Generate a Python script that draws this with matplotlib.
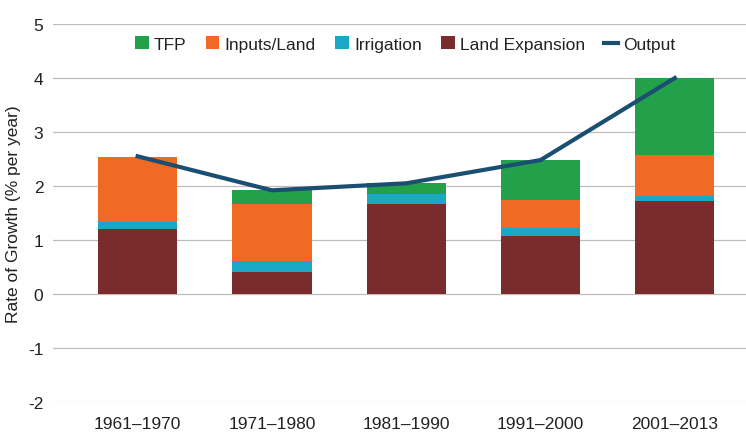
import matplotlib.pyplot as plt
import numpy as np

plt.rcParams['font.family'] = ['Liberation Sans', 'DejaVu Sans']
plt.rcParams['axes.unicode_minus'] = False

COLORS = {
    'tfp': '#23a04a',
    'inputs': '#f06a26',
    'irrigation': '#1ba7c6',
    'land': '#7a2b2c',
    'output': '#1b4f72',
    'grid': '#bdbdbd',
    'text': '#222222',
}

periods = ['1961–1970', '1971–1980', '1981–1990', '1991–2000', '2001–2013']
land_expansion = [1.20, 0.41, 1.66, 1.07, 1.72]
irrigation = [0.13, 0.21, 0.20, 0.16, 0.10]
inputs_land = [1.21, 1.04, 0.00, 0.52, 0.76]
tfp = [0.00, 0.27, 0.19, 0.74, 1.42]
output = [2.55, 1.92, 2.05, 2.48, 4.00]

fig = plt.figure(figsize=(7.46, 4.35), dpi=100)
fig.patch.set_facecolor('white')
ax = fig.add_axes([53 / 746, 32 / 435, 693 / 746, 378 / 435])

x = np.arange(len(periods))
w = 0.59
bottom = np.zeros(len(periods))
series = [
    ('Land Expansion', land_expansion, COLORS['land']),
    ('Irrigation', irrigation, COLORS['irrigation']),
    ('Inputs/Land', inputs_land, COLORS['inputs']),
    ('TFP', tfp, COLORS['tfp']),
]
handles = {}
for name, vals, col in series:
    vals = np.array(vals)
    b = ax.bar(x, vals, w, bottom=bottom, color=col, label=name, zorder=2)
    handles[name] = b
    bottom += vals

line, = ax.plot(x, output, color=COLORS['output'], lw=3, label='Output', zorder=3)

ax.set_xlim(-0.63, 4.53)
ax.set_ylim(-2, 5)
ax.set_yticks(range(-2, 6))
ax.yaxis.grid(True, color=COLORS['grid'], lw=0.9, zorder=0)
ax.get_ygridlines()[0].set_color('#e2e2e2')
ax.set_axisbelow(True)
for s in ax.spines.values():
    s.set_visible(False)
ax.tick_params(axis='y', length=0, labelsize=12.5, colors=COLORS['text'], pad=7)
ax.tick_params(axis='x', length=0, labelsize=12.5, colors=COLORS['text'], pad=10)
ax.set_xticks(x)
ax.set_xticklabels(periods)
ax.set_ylabel('Rate of Growth (% per year)', fontsize=12.5, color=COLORS['text'])
ax.yaxis.set_label_coords(-0.046, 0.5)

order = ['TFP', 'Inputs/Land', 'Irrigation', 'Land Expansion']
leg = ax.legend([handles[n] for n in order] + [line], order + ['Output'],
                loc='center', bbox_to_anchor=(0.508, 0.947), ncol=5, frameon=False,
                fontsize=12.5, handlelength=0.8, handleheight=0.8, handletextpad=0.3,
                columnspacing=1.1)
for t in leg.get_texts():
    t.set_color(COLORS['text'])

fig.savefig('out.png', dpi=100, facecolor='white')
